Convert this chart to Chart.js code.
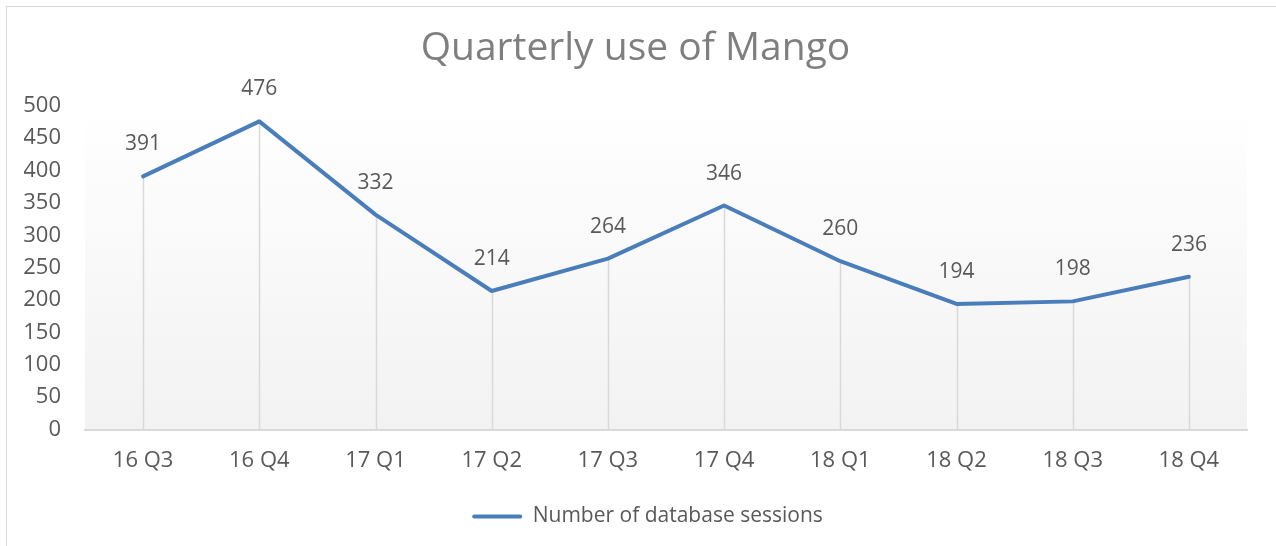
<!DOCTYPE html>
<html lang="en">
<head>
  <meta charset="UTF-8" />
  <title>Quarterly use of Mango</title>
  <script src="https://cdn.jsdelivr.net/npm/chart.js"></script>
  <style>
    html, body { margin: 0; padding: 0; background: #fff; }
    #wrap { position: relative; width: 1276px; height: 546px; overflow: hidden; }
    /* chart frame: only top and left edges are visible in the original */
    #frame { position: absolute; left: 6px; top: 6px; width: 1300px; height: 600px;
             border-top: 1px solid #d9d9d9; border-left: 1px solid #d9d9d9; pointer-events: none; }
    canvas { position: absolute; left: 0; top: 0; }
  </style>
</head>
<body>
  <div id="wrap">
    <canvas id="chart" width="1276" height="546"></canvas>
    <div id="frame"></div>
  </div>

  <script>
    // data
    const quarters = ["16 Q3", "16 Q4", "17 Q1", "17 Q2", "17 Q3", "17 Q4", "18 Q1", "18 Q2", "18 Q3", "18 Q4"];
    const sessions = [391, 476, 332, 214, 264, 346, 260, 194, 198, 236];
    const yTicks   = [0, 50, 100, 150, 200, 250, 300, 350, 400, 450, 500];

    const FONT = "'Open Sans', 'DejaVu Sans', sans-serif";
    const TEXT = "#595959";
    const BLUE = "#4a7ebb";

    // gradient fill behind the plot area
    const plotBackground = {
      id: "plotBackground",
      beforeDraw(chart) {
        const { ctx, chartArea: a } = chart;
        const g = ctx.createLinearGradient(0, a.top, 0, a.bottom);
        g.addColorStop(0, "#ffffff");
        g.addColorStop(1, "#f2f2f2");
        ctx.save();
        ctx.fillStyle = g;
        ctx.fillRect(a.left, a.top, a.right - a.left, a.bottom - a.top);
        ctx.restore();
      }
    };

    // vertical drop lines from each point down to the axis
    const dropLines = {
      id: "dropLines",
      beforeDatasetsDraw(chart) {
        const { ctx } = chart;
        const base = chart.scales.y.getPixelForValue(0);
        ctx.save();
        ctx.strokeStyle = "#d9d9d9";
        ctx.lineWidth = 1.5;
        chart.getDatasetMeta(0).data.forEach(pt => {
          ctx.beginPath();
          ctx.moveTo(Math.round(pt.x) + 0.5, pt.y);
          ctx.lineTo(Math.round(pt.x) + 0.5, base);
          ctx.stroke();
        });
        ctx.restore();
      }
    };

    // value labels above the points
    const valueLabels = {
      id: "valueLabels",
      afterDatasetsDraw(chart) {
        const { ctx } = chart;
        const ds = chart.data.datasets[0];
        ctx.save();
        ctx.fillStyle = TEXT;
        ctx.font = "21px " + FONT;
        ctx.textAlign = "center";
        ctx.textBaseline = "middle";
        chart.getDatasetMeta(0).data.forEach((pt, i) => {
          ctx.fillText(String(ds.data[i]), pt.x, pt.y - 32);
        });
        ctx.restore();
      }
    };

    // nudge the legend a bit right, as in the original
    const legendShift = {
      id: "legendShift",
      afterLayout(chart) {
        chart.legend.left += 12;
        chart.legend.right += 12;
      }
    };

    new Chart(document.getElementById("chart").getContext("2d"), {
      type: "line",
      data: {
        labels: quarters,
        datasets: [{
          label: "Number of database sessions",
          data: sessions,
          borderColor: BLUE,
          backgroundColor: BLUE,
          borderWidth: 4,
          pointRadius: 0,
          pointHoverRadius: 0,
          tension: 0,
          borderJoinStyle: "round",
          borderCapStyle: "round"
        }]
      },
      options: {
        responsive: false,
        animation: false,
        layout: { padding: { left: 24, right: 29, top: 0, bottom: 9 } },
        plugins: {
          title: {
            display: true,
            text: "Quarterly use of Mango",
            color: "#7f7f7f",
            font: { family: FONT, size: 39, weight: "normal" },
            padding: { top: 25, bottom: 34 }
          },
          legend: {
            position: "bottom",
            labels: {
              color: TEXT,
              font: { family: FONT, size: 21 },
              boxWidth: 50,
              boxHeight: 4,
              padding: 14,
              generateLabels(chart) {
                return Chart.defaults.plugins.legend.labels.generateLabels(chart)
                  .map(l => Object.assign(l, { lineWidth: 0, borderRadius: 2 }));
              }
            }
          },
          tooltip: { enabled: false }
        },
        scales: {
          x: {
            offset: true,
            grid: { display: false, drawTicks: false },
            border: { display: true, color: "#d9d9d9", width: 2 },
            ticks: { color: TEXT, font: { family: FONT, size: 22 }, padding: 18, maxRotation: 0 }
          },
          y: {
            min: 0,
            max: 500,
            afterBuildTicks(axis) { axis.ticks = yTicks.map(v => ({ value: v })); },
            afterFit(axis) { axis.width = 61; },
            grid: { display: false, drawTicks: false },
            border: { display: false },
            ticks: { color: TEXT, font: { family: FONT, size: 22 }, padding: 24 }
          }
        }
      },
      plugins: [plotBackground, dropLines, valueLabels, legendShift]
    });
  </script>
</body>
</html>
